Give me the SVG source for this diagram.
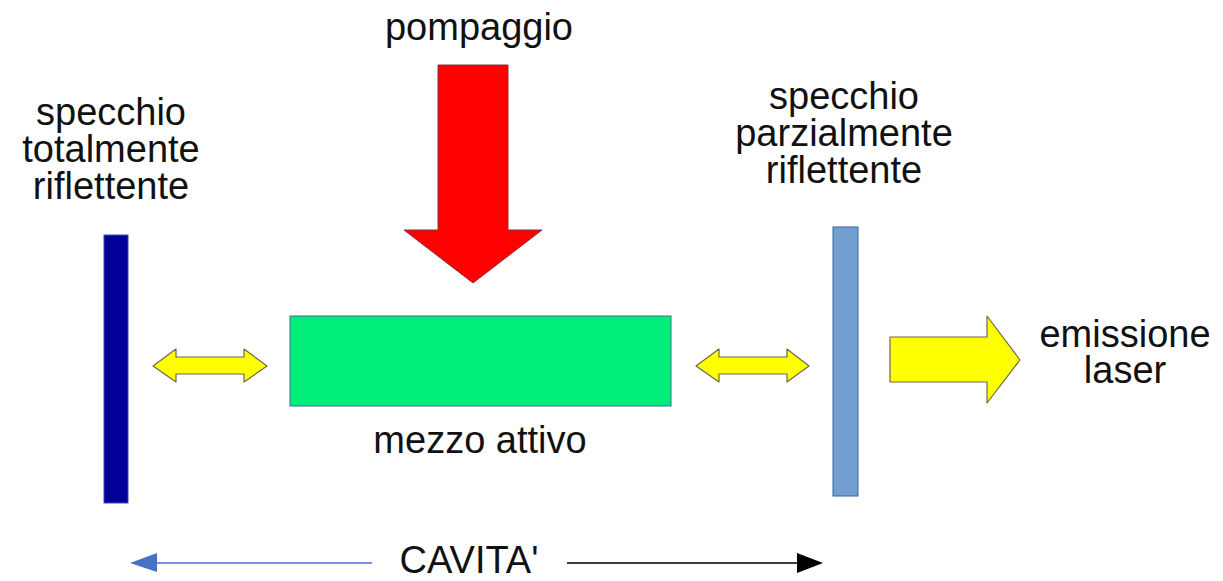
<svg xmlns="http://www.w3.org/2000/svg" width="1223" height="581" viewBox="0 0 1223 581">
<style>
text{font-family:"Liberation Sans",Arial,sans-serif;font-size:38px;fill:#111;text-anchor:middle}
.yel{fill:#ffff00;stroke:#6b6b4a;stroke-width:1.2;stroke-linejoin:round}
</style>
<rect width="1223" height="581" fill="#ffffff"/>
<g id="mirror-left">
<rect x="104" y="235" width="24" height="268" fill="#000099" stroke="#3a4fb0" stroke-width="1"/>
<text x="111" y="125">specchio</text>
<text x="111" y="162">totalmente</text>
<text x="111" y="199">riflettente</text>
</g>
<g id="pump">
<polygon points="438,65 508,65 508,230 542,230 473,283 404,230 438,230" fill="#ff0000" stroke="#8a3040" stroke-width="1"/>
<text x="479" y="40">pompaggio</text>
</g>
<g id="medium">
<rect x="290" y="316" width="381" height="90" fill="#00ee77" stroke="#3b6fa0" stroke-width="1"/>
<text x="480" y="453">mezzo attivo</text>
</g>
<g id="mirror-right">
<rect x="833" y="227" width="25" height="269" fill="#729fcf" stroke="#3465a4" stroke-width="1"/>
<text x="844" y="109">specchio</text>
<text x="844" y="146">parzialmente</text>
<text x="844" y="183">riflettente</text>
</g>
<g id="emission">
<polygon class="yel" points="890,337 987,337 987,316 1020,360 987,403 987,382 890,382"/>
<text x="1125" y="347">emissione</text>
<text x="1125" y="383">laser</text>
</g>
<g id="connectors">
<polygon class="yel" points="153,366 176,349 176,357 244,357 244,349 267,366 244,382 244,374 176,374 176,382"/>
<polygon class="yel" points="696,366 719,349 719,357 787,357 787,349 809,366 787,382 787,374 719,374 719,382"/>
<line x1="150" y1="563" x2="372" y2="563" stroke="#4472c4" stroke-width="1.5"/>
<polygon points="130,563 157,553 157,572" fill="#4472c4"/>
<line x1="567" y1="563" x2="800" y2="563" stroke="#000" stroke-width="1.5"/>
<polygon points="823,563 797,553 797,573" fill="#000"/>
</g>
<g id="cavity-label">
<text x="469" y="573">CAVITA'</text>
</g>
</svg>
